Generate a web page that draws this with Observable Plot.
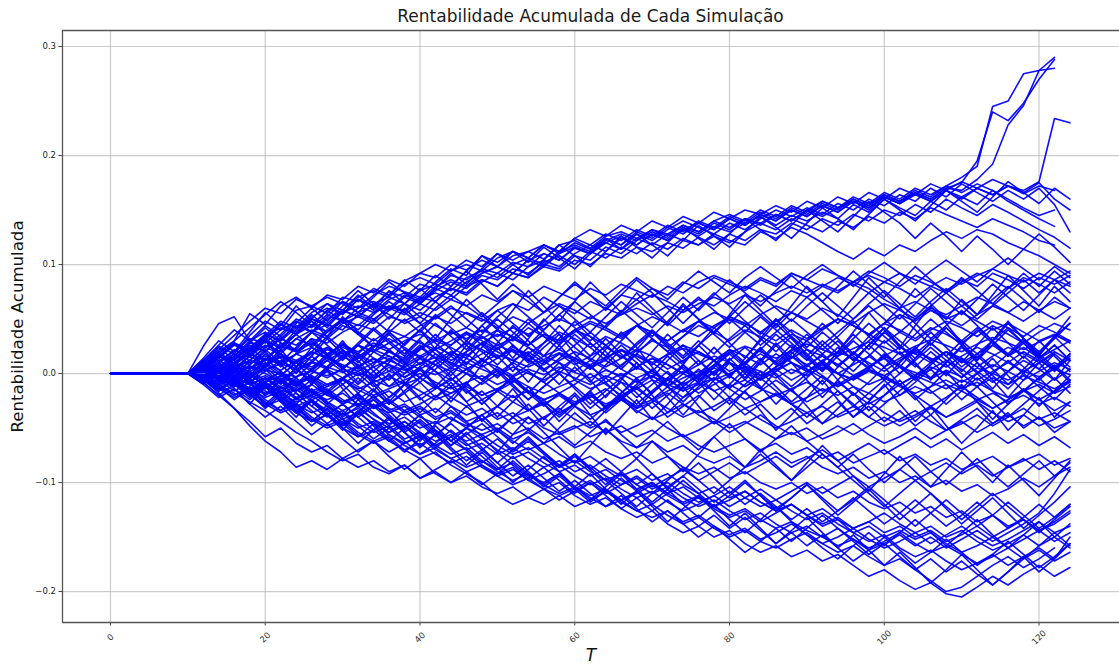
<!DOCTYPE html>
<html>
<head>
<meta charset="utf-8">
<script src="https://cdn.jsdelivr.net/npm/d3@7"></script>
<script src="https://cdn.jsdelivr.net/npm/@observablehq/plot@0.6"></script>
<style>
  html, body { margin: 0; padding: 0; background: #fff; overflow: hidden; }
  #wrap { position: relative; width: 1119px; height: 666px; font-family: "DejaVu Sans", sans-serif; }
  #title { position: absolute; left: 62px; width: 1057px; top: 6px; line-height: 20px; font-size: 17px; text-align: center; color: #1a1a1a; }
  #chart { position: absolute; left: 0; top: 24px; }
</style>
</head>
<body>
<div id="wrap">
  <div id="title">Rentabilidade Acumulada de Cada Simulação</div>
  <div id="chart"></div>
</div>
<script>
// Time axis of each simulation: flat at 0 until day 10, then one value every 2 days.
const flatUntil = 10;
const stepT = 2;
const xTicks = [0, 20, 40, 60, 80, 100, 120];
const yTicks = [-0.2, -0.1, 0.0, 0.1, 0.2, 0.3];

// Cumulative return of each simulation, in thousandths.
const upperBand = [
  [0,12,25,18,35,48,40,58,62,55, 70,66,78,72,85,92,88,100,95,104, 98,108,112,105,118,122,115,126,130,124, 132,128,136,130,140,134,142,138,146,140, 150,144,152,158,150,162,156,165,158,168, 160,170,164,172,166,175,160,150],
  [0,-5,10,22,15,30,45,38,52,60, 55,68,62,75,70,82,78,90,86,96, 92,102,98,110,104,115,110,120,126,118, 128,122,132,126,135,130,138,144,136,145, 140,148,142,155,148,160,152,145,158,150, 162,155,168,158,150,142,135],
  [0,8,20,30,55,45,62,70,60,72, 68,80,74,86,80,92,100,94,104,98, 110,104,112,118,110,120,114,124,118,128, 122,132,140,134,128,138,132,142,150,144, 152,146,156,150,160,154,164,158,170,162, 174,166,158,168,160,170,155,130],
  [0,3,-4,8,18,12,28,22,38,45, 40,54,48,62,58,70,66,78,74,86, 80,92,88,98,94,104,100,110,106,116, 112,120,115,125,118,128,122,132,128,138, 132,142,136,146,140,150,145,155,148,160, 152,145,155,148,140,132,125,115],
  [0,10,5,16,28,24,36,50,44,58, 66,60,72,80,75,70,84,96,90,108, 102,112,106,118,112,124,132,126,136,130, 140,134,144,138,148,142,150,146,154,148, 158,152,162,156,166,160,170,164,174,168, 176,170,178,172,165,172,168],
  [0,6,14,26,20,34,42,36,50,46, 58,52,64,58,70,64,76,84,78,90, 86,96,92,102,108,100,112,106,116,110, 120,114,124,118,128,122,118,130,124,134, 128,120,112,105,115,108,118,112,122,130, 124,132,128,120,114,108,100,92],
  [0,-8,2,-4,12,24,18,32,26,40, 50,44,56,62,56,68,74,68,80,86, 80,92,88,100,96,108,104,116,110,122, 130,124,134,128,138,132,142,136,146,140, 150,158,152,162,156,166,160,170,164,172, 166,174,168,160,152,145,150],
  [0,5,12,20,32,28,40,48,42,54, 48,60,66,60,72,66,78,72,84,92, 98,92,104,98,110,116,110,120,114,124, 118,128,122,118,126,120,130,138,132,142, 136,130,140,134,144,138,148,142,152,146, 140,134,142,136,130,122,118],
  [0,4,14,28,18,32,46,36,50,64, 54,68,58,72,86,76,90,80,94,108, 98,112,102,116,106,96,110,124,114,128, 118,108,122,136,126,116,130,144,134,124, 138,152,142,132,146,160,150,140,154,168, 158,148,162,176,166,156,170,160],
  [0,10,2,16,30,20,34,48,38,52, 66,56,70,84,74,64,78,92,82,96, 110,100,90,104,118,108,98,112,126,116, 106,120,134,124,114,128,142,132,122,136, 150,140,130,144,158,148,138,124,138,126, 112,126,114,100,114,128,116,102]
];

const spikeBand = [
  [0,4,15,28,22,35,48,42,56,64, 58,70,76,70,82,88,82,94,100,94, 106,112,106,118,112,124,118,128,122,132, 126,136,130,140,134,144,138,148,142,152, 146,156,150,160,154,164,158,168,162,172, 180,190,245,250,275,278,290],
  [0,8,2,14,26,20,32,44,38,50, 58,52,64,70,64,76,82,76,88,94, 88,100,106,100,112,118,112,124,118,130, 124,134,128,138,132,142,136,146,140,150, 144,154,148,158,152,162,156,166,160,170, 175,195,240,232,248,270,288],
  [0,6,18,12,24,36,30,42,50,44, 56,62,56,68,74,68,80,86,80,92, 98,92,104,110,104,116,110,122,128,122, 132,126,136,130,140,146,140,150,144,154, 148,158,152,160,154,164,158,166,160,170, 168,178,192,228,246,278,280],
  [0,2,9,5,16,26,20,32,40,34, 46,52,46,58,64,58,70,78,72,84, 92,86,98,104,98,110,118,112,124,118, 128,122,132,138,132,142,136,146,140,150, 144,154,148,158,152,162,156,164,158,168, 162,170,164,172,168,176,234,230]
];

const middleBand = [
  [0,5,-3,10,18,12,25,20,32,28, 38,45,40,52,48,56,50,60,55,48, 58,64,58,70,62,55,66,60,72,68, 78,72,84,78,88,82,76,86,80,92, 86,96,90,84,94,88,80,90,84,76, 86,80,92,86,78,88,82,90],
  [0,-4,6,2,-5,8,15,10,4,12, 20,14,26,20,12,22,30,24,16,28, 36,30,42,34,28,38,46,40,32,44, 52,46,38,48,56,50,44,54,62,56, 48,40,50,44,36,46,54,48,58,52, 44,54,62,56,48,58,66,60],
  [0,3,-6,-2,-10,-4,-14,-8,-18,-12, -5,-15,-22,-16,-26,-20,-12,-22,-30,-24, -16,-26,-34,-28,-20,-30,-38,-32,-24,-34, -42,-36,-28,-38,-46,-40,-32,-42,-50,-44, -36,-46,-38,-30,-40,-48,-42,-34,-44,-52, -46,-38,-48,-40,-32,-42,-36,-44],
  [0,-3,4,-2,6,0,-8,2,10,4, -4,6,14,8,0,10,2,-6,4,12, 6,-2,8,16,10,2,12,4,-4,6, 14,8,0,-8,2,10,4,-4,6,14, 22,16,8,18,10,2,12,20,14,6, 16,24,18,10,20,12,4,14],
  [0,6,2,10,4,14,8,18,12,22, 16,26,20,12,22,16,8,18,28,22, 14,24,18,28,38,32,24,34,28,20, 30,24,34,44,38,30,40,34,26,36, 30,40,50,44,36,46,40,32,42,36, 28,38,48,42,34,44,38,30],
  [0,-2,3,-4,2,-6,1,-8,-2,-10, -4,2,-6,-12,-6,0,-8,-14,-8,-2, -10,-4,-12,-18,-12,-6,-14,-8,0,-8, -2,-10,-16,-10,-4,-12,-6,-14,-20,-14, -8,-16,-10,-2,-10,-4,-12,-18,-12,-6, -14,-8,-16,-22,-16,-10,-18,-12],
  [0,8,16,10,22,30,24,36,44,38, 48,56,50,60,54,64,58,68,62,72, 66,76,70,80,74,68,78,72,82,76, 70,80,74,84,90,84,78,88,82,92, 86,80,74,84,78,68,60,66,58,50, 56,48,40,46,38,30,36,28],
  [0,1,-2,2,-1,3,0,-3,2,-2, 4,0,-4,2,-3,3,-1,5,0,-5, 2,-3,4,-1,6,1,-4,3,-2,5, 0,-6,2,-3,5,-1,7,2,-4,4, -2,6,0,-5,3,-2,6,1,-5,3, -3,5,0,-6,2,-3,4,-1],
  [0,2,8,4,12,6,16,10,20,14, 24,18,10,20,14,24,32,26,36,30, 22,32,26,36,30,40,34,26,36,44, 38,30,40,48,42,52,46,38,48,56, 50,60,54,46,56,64,58,50,60,54, 62,70,64,56,66,58,50,60],
  [0,-4,-10,-5,-14,-8,-18,-12,-22,-16, -26,-20,-30,-24,-34,-28,-20,-30,-38,-32, -42,-36,-46,-40,-32,-42,-50,-44,-54,-48, -40,-50,-58,-52,-44,-54,-46,-38,-48,-56, -50,-60,-54,-46,-56,-64,-58,-50,-60,-52, -44,-54,-46,-38,-48,-40,-50,-44],
  [0,25,46,52,30,38,28,20,28,18, 26,16,24,32,24,14,22,12,20,28, 20,12,20,10,18,8,16,24,16,6, 14,4,12,20,12,2,10,18,10,0, 8,16,8,-2,6,14,6,-4,4,12, 4,-6,2,10,2,10,18],
  [0,10,22,35,48,60,55,68,62,70, 64,56,62,54,46,52,44,36,42,34, 26,32,24,16,22,14,6,12,4,-4, 2,-6,-14,-8,-16,-10,-18,-26,-20,-28, -22,-14,-20,-12,-18,-26,-20,-12,-18,-10, -16,-24,-18,-26,-20,-28,-22,-30],
  [0,4,10,18,12,24,32,26,38,32, 44,38,30,40,34,44,52,46,56,50, 42,52,46,56,64,58,50,60,54,64, 72,66,58,68,62,72,80,74,66,76, 70,80,88,82,74,84,78,70,80,74, 84,92,86,78,88,82,74,84],
  [0,-6,-2,-10,-16,-10,-20,-14,-24,-18, -28,-22,-32,-26,-36,-30,-40,-34,-44,-38, -30,-40,-34,-26,-36,-28,-20,-30,-22,-14, -24,-16,-8,-18,-10,-2,-12,-4,4,-6, 2,10,0,8,16,6,14,22,12,20, 10,18,26,16,24,14,22,30],
  [0,3,-6,4,-8,2,12,4,-6,6, 16,8,-2,8,-4,6,18,10,0,-10, 0,10,2,-8,4,14,6,-4,8,18, 10,0,-10,-2,8,-2,-12,-4,6,16, 8,-2,-12,-4,6,16,8,-2,10,20, 12,2,-8,2,12,4,-6,4],
  [0,2,-3,6,12,8,16,10,18,24, 18,26,20,28,34,28,22,30,38,32, 40,34,26,36,30,40,48,42,34,44, 38,30,40,34,44,52,46,38,30,40, 32,42,50,44,36,28,38,30,40,48, 42,34,44,36,28,38,46,40],
  [0,-2,4,-4,-10,-4,-12,-6,-16,-10, -4,-12,-20,-14,-8,-16,-24,-18,-10,-20, -14,-6,-16,-24,-18,-28,-22,-14,-24,-32, -26,-18,-28,-36,-30,-22,-32,-26,-18,-28, -36,-30,-40,-34,-26,-36,-44,-38,-30,-40, -34,-26,-36,-44,-38,-48,-42,-34],
  [0,4,0,6,2,9,3,12,6,14, 8,2,10,16,10,4,12,20,14,6, 14,22,16,8,18,12,4,14,22,16, 8,18,26,20,12,22,16,8,18,10, 2,12,20,14,6,16,24,18,10,20, 14,6,16,24,18,10,20,12],
  [0,3,8,2,10,16,10,18,24,18, 26,20,28,22,30,36,30,38,32,40, 34,42,36,44,50,44,52,46,54,60, 54,62,56,64,70,64,72,66,74,80, 74,82,76,84,90,84,92,86,80,88, 82,90,96,90,84,92,86,80],
  [0,-3,2,-5,0,-8,-2,-10,-4,-12, -6,-14,-8,-2,-10,-4,-12,-18,-12,-20, -14,-22,-16,-24,-18,-26,-20,-28,-22,-30, -24,-32,-40,-34,-42,-50,-44,-52,-60,-54, -62,-56,-48,-56,-48,-40,-48,-40,-32,-40, -32,-24,-32,-24,-16,-24,-16,-8],
  [0,2,5,1,7,3,9,4,11,6, 1,7,13,8,3,9,15,10,4,11, 17,12,6,13,19,14,8,15,21,16, 10,17,23,18,12,19,25,20,14,21, 27,22,16,23,29,24,18,25,31,26, 20,27,33,28,22,29,35,30],
  [0,-1,-5,0,-7,-2,-9,-3,3,-4, 4,-2,6,12,6,14,8,2,10,4, -2,6,0,-6,2,-4,-10,-2,-8,-14, -6,-12,-4,2,-6,0,6,-2,4,10, 2,8,0,-6,2,-4,-10,-2,-8,-14, -6,-12,-4,-10,-2,-8,-14,-6],
  [0,4,-2,5,-4,6,-6,4,-8,2, -10,0,-12,-4,6,-4,-14,-6,4,-6, -16,-8,2,-8,-18,-10,0,-10,-20,-12, -2,-12,-22,-14,-4,-14,-24,-16,-6,-16, -26,-18,-8,-18,-28,-20,-10,-20,-30,-22, -12,-22,-32,-24,-14,-24,-34,-26],
  [0,-2,5,10,4,12,18,12,20,14, 6,14,22,16,8,16,24,18,10,18, 26,20,12,4,12,20,14,6,14,22, 16,8,0,8,16,10,2,-6,2,10, 4,-4,-12,-4,4,-2,-10,-2,6,0, -8,0,8,2,-6,2,10,4],
  [0,12,-6,8,22,4,-10,6,24,14, 30,12,-4,10,28,40,22,8,26,44, 30,14,32,50,36,18,4,22,38,24, 6,-10,8,26,12,-4,14,32,50,34, 16,2,20,38,56,40,24,44,62,46, 28,12,30,48,32,16,34,52],
  [0,-8,6,-12,-4,-20,-6,-24,-10,4, -14,-30,-16,0,-18,-36,-22,-8,-26,-44, -30,-14,-32,-48,-34,-20,-38,-56,-40,-24, -42,-28,-12,-30,-46,-32,-16,-34,-52,-38, -22,-6,-24,-40,-26,-10,-28,-44,-30,-48, -64,-50,-34,-52,-38,-22,-40,-26],
  [0,14,30,20,38,56,44,62,48,34, 52,38,24,42,60,46,32,50,68,54, 40,58,76,62,48,66,84,70,56,74, 60,46,64,50,36,54,72,58,44,62, 80,66,52,70,88,74,60,78,64,50, 68,54,72,90,76,62,80,66],
  [0,6,18,4,16,30,14,0,16,32, 18,4,20,36,22,8,24,40,26,12, 28,44,30,16,32,48,34,20,6,22, 38,24,10,26,42,28,14,30,46,32, 18,4,20,36,22,38,54,40,26,42, 28,14,30,46,32,18,34,20],
  [0,-4,8,-6,-18,-4,-16,-28,-14,-26, -38,-24,-36,-48,-34,-46,-58,-44,-30,-42, -54,-40,-52,-64,-50,-36,-48,-34,-20,-32, -18,-4,-16,-2,12,-2,10,24,10,22, 36,22,34,48,34,46,60,46,32,44, 58,44,30,42,28,14,26,12],
  [0,10,24,12,28,42,30,46,60,48, 62,76,64,50,64,78,66,80,94,82, 68,82,70,56,70,84,72,58,72,86, 74,60,46,60,74,62,48,36,50,38, 24,38,26,12,26,14,0,14,28,16, 2,16,4,-10,4,18,6,-8],
  [0,8,-8,6,-10,8,22,6,-10,6, 22,6,-10,-26,-10,6,-10,-26,-10,8, 24,8,-8,10,26,10,-6,-22,-6,10, -6,-22,-38,-22,-6,10,-6,10,26,10, -6,-22,-6,10,26,42,26,10,-6,10, 26,10,-6,-22,-6,10,-6,12],
  [0,-6,6,18,8,22,10,24,38,26, 14,28,42,30,18,32,46,34,22,36, 50,38,26,40,54,42,30,44,58,46, 34,48,62,50,38,52,66,54,42,56, 70,58,46,60,74,62,50,64,78,66, 54,68,82,70,58,72,86,74],
  [0,4,-4,8,-2,10,0,-12,0,12, 2,-10,2,14,4,-8,4,16,6,-6, 6,-6,-18,-30,-18,-30,-42,-30,-18,-6, -18,-6,6,-6,6,18,6,-6,6,18, 30,18,6,18,30,42,30,18,30,42, 30,18,6,18,6,-6,6,18],
  [0,12,26,40,30,44,34,20,32,18, 4,16,2,-12,0,14,2,-12,0,14, 2,-12,-24,-12,0,-12,-24,-36,-24,-12, -24,-12,0,12,0,12,24,12,0,-12, 0,12,0,-12,-24,-12,0,12,24,12, 0,-12,0,12,0,-12,-24,-10],
  [0,6,16,28,16,30,18,6,20,34, 22,10,24,38,26,40,54,42,30,44, 58,46,34,48,62,50,38,52,66,54, 42,56,70,58,72,86,74,62,76,90, 78,66,80,94,82,70,84,98,86,74, 88,76,64,78,92,80,94,82],
  [0,-6,4,-8,-20,-8,-18,-4,-16,-28, -16,-4,-16,-28,-16,-4,8,-4,-16,-28, -16,-4,-16,-28,-40,-28,-16,-4,-16,-28, -16,-4,8,-4,-16,-28,-16,-4,-16,-28, -40,-28,-16,-28,-40,-28,-16,-4,-16,-28, -16,-4,-16,-28,-16,-4,8,-6],
  [0,-8,-20,-10,4,18,8,-4,10,24, 12,26,40,28,16,30,18,6,20,34, 22,36,50,38,26,40,28,16,30,44, 32,20,34,48,36,24,38,52,40,28, 16,30,18,32,46,34,22,36,50,38, 26,40,28,16,30,18,32,46],
  [0,6,-4,10,-2,14,2,-10,4,18, 6,-8,8,22,10,-4,12,-2,14,28, 16,2,18,4,-10,6,-8,8,22,10, -4,12,26,12,-2,14,0,-14,2,16, 4,-10,6,20,8,-6,10,24,12,-2, 14,0,-14,2,16,4,18,6],
  [0,-6,4,-10,2,-14,-2,10,-4,-18, -6,8,-8,-22,-10,4,-12,2,-14,-28, -16,-2,-18,-4,10,-6,8,-8,-22,-10, 4,-12,-26,-12,2,-14,0,14,-2,-16, -4,10,-6,-20,-8,6,-10,-24,-12,2, -14,0,14,-2,-16,-4,-18,-6],
  [0,3,10,-2,8,20,6,18,30,16, 4,18,6,-6,8,22,36,22,8,24, 40,26,12,28,44,30,16,32,18,4, 20,36,22,8,24,10,-4,12,28,14, 30,46,32,18,34,20,6,22,38,24, 10,26,42,28,14,30,16,2],
  [0,-3,-10,2,-8,-20,-6,-18,-30,-16, -4,-18,-6,6,-8,-22,-36,-22,-8,-24, -40,-26,-12,-28,-44,-30,-16,-32,-18,-4, -20,-36,-22,-8,-24,-10,4,-12,-28,-14, -30,-46,-32,-18,-34,-20,-6,-22,-38,-24, -10,-26,-42,-28,-14,-30,-16,-2],
  [0,4,12,4,16,8,-2,10,2,16, 28,18,32,22,10,24,14,4,18,8, -4,10,24,12,0,14,28,16,4,18, 32,20,8,-4,8,22,10,-2,12,26, 14,2,16,30,18,6,20,8,-4,10, 24,12,26,40,28,16,4,18],
  [0,-4,-12,-4,-16,-8,2,-10,-2,-16, -28,-18,-32,-22,-10,-24,-14,-4,-18,-8, 4,-10,-24,-12,0,-14,-28,-16,-4,-18, -32,-20,-8,4,-8,-22,-10,2,-12,-26, -14,-2,-16,-30,-18,-6,-20,-8,4,-10, -24,-12,-26,-40,-28,-16,-4,-18],
  [0,8,2,14,24,12,26,36,24,38, 48,36,24,38,50,38,52,62,50,38, 52,64,52,40,54,66,54,42,56,68, 56,44,58,70,58,46,60,72,60,48, 62,74,62,50,64,76,64,52,66,78, 66,54,68,80,68,56,70,60],
  [0,10,20,8,22,36,24,40,54,42, 58,72,60,76,64,52,66,54,42,56, 44,32,46,34,22,36,24,12,26,14, 2,16,4,-8,6,20,8,22,36,24, 12,26,14,2,16,30,18,6,20,8, -4,10,-2,-14,0,14,2,16],
  [0,-6,-16,-6,-18,-30,-18,-32,-44,-32, -46,-58,-46,-60,-72,-60,-48,-62,-50,-38, -52,-40,-28,-42,-30,-18,-32,-20,-8,-22, -10,2,-12,0,12,-2,10,22,8,20, 6,18,30,16,4,18,6,-6,8,20, 6,18,30,16,28,14,26,12],
  [0,2,-6,6,-4,8,18,6,16,4, 14,26,14,2,14,26,14,26,38,26, 14,26,14,2,14,26,38,26,14,26, 38,26,14,26,38,50,38,26,38,50, 38,26,38,50,62,50,38,50,62,74, 62,50,62,74,86,74,86,94],
  [0,8,18,30,42,54,66,56,44,58, 48,36,50,38,26,40,28,16,30,20, 8,22,10,24,36,24,12,26,14,28, 40,28,16,30,18,32,44,32,20,34, 22,10,24,12,26,38,26,14,28,16, 30,42,30,18,32,20,34,46],
  [0,-4,4,-8,0,-12,-4,-16,-6,-20, -10,-24,-14,-28,-18,-8,-22,-12,-26,-16, -30,-20,-34,-24,-38,-28,-18,-32,-22,-36, -26,-40,-30,-20,-34,-24,-38,-28,-42,-32, -46,-36,-26,-40,-30,-44,-34,-48,-38,-52, -42,-32,-46,-36,-50,-40,-54,-44],
  [0,4,16,8,20,32,22,36,48,38, 50,40,54,66,56,46,60,72,62,52, 64,76,66,56,70,82,72,62,76,88, 78,68,82,94,84,74,88,98,88,78, 90,100,90,80,92,102,92,82,94,104, 94,84,96,106,96,86,98,88]
];

const lowerBand = [
  [0,-8,-20,-32,-44,-58,-50,-64,-72,-66, -78,-86,-80,-90,-84,-96,-88,-80,-90,-84, -94,-102,-96,-106,-112,-106,-98,-108,-116,-110, -102,-112,-120,-114,-124,-132,-126,-136,-128,-120, -130,-140,-134,-146,-154,-148,-160,-168,-162,-172, -180,-174,-166,-176,-168,-160,-170,-150],
  [0,-4,-10,-18,-26,-34,-44,-54,-62,-72, -80,-74,-86,-92,-84,-96,-90,-100,-94,-104, -110,-104,-114,-120,-112,-122,-116,-108,-118,-126, -120,-130,-138,-132,-142,-150,-144,-154,-160,-152, -146,-156,-164,-158,-168,-176,-170,-180,-190,-200, -196,-186,-176,-168,-178,-170,-160],
  [0,3,-5,-12,-6,-16,-24,-18,-30,-40, -34,-46,-54,-48,-60,-54,-66,-74,-68,-80, -88,-82,-94,-100,-92,-104,-112,-106,-116,-108, -100,-110,-118,-112,-122,-130,-124,-134,-142,-136, -144,-150,-142,-152,-160,-154,-146,-156,-164,-158, -166,-174,-168,-160,-170,-162,-172,-164],
  [0,-6,-2,-10,-18,-12,-22,-30,-24,-34, -42,-36,-46,-54,-48,-58,-52,-62,-70,-64, -74,-68,-78,-86,-80,-90,-84,-94,-102,-96, -106,-100,-110,-118,-112,-104,-114,-122,-116,-126, -134,-128,-138,-146,-140,-150,-144,-152,-146,-156, -164,-158,-150,-160,-152,-144,-154,-146],
  [0,-2,-8,-4,-14,-22,-16,-28,-36,-30, -42,-50,-44,-56,-64,-58,-70,-78,-72,-84, -92,-86,-98,-106,-100,-112,-120,-114,-124,-132, -126,-138,-146,-140,-150,-144,-156,-164,-158,-168, -162,-172,-166,-176,-186,-180,-190,-198,-192,-202, -205,-196,-186,-194,-184,-176,-186,-178],
  [0,-5,-14,-8,-20,-30,-24,-36,-44,-38, -50,-58,-52,-62,-70,-64,-74,-82,-76,-86, -94,-88,-98,-92,-84,-94,-102,-96,-106,-114, -108,-118,-126,-120,-112,-122,-114,-106,-116,-108, -100,-110,-102,-94,-104,-96,-88,-98,-90,-82, -92,-84,-94,-86,-78,-88,-80,-90],
  [0,2,-4,2,-6,-12,-6,-16,-10,-20, -26,-20,-30,-36,-30,-40,-46,-40,-50,-56, -50,-60,-54,-64,-58,-68,-62,-72,-78,-72, -82,-76,-86,-92,-86,-96,-90,-100,-106,-100, -110,-104,-114,-108,-118,-124,-118,-128,-122,-132, -126,-136,-130,-140,-134,-144,-138,-128],
  [0,-3,-12,-20,-14,-26,-34,-28,-40,-48, -42,-54,-62,-56,-66,-74,-68,-78,-86,-80, -90,-98,-92,-102,-110,-104,-114,-122,-116,-126, -132,-126,-136,-130,-140,-148,-142,-152,-146,-138, -148,-156,-150,-142,-152,-160,-154,-146,-156,-148, -140,-150,-158,-152,-144,-136,-146,-140],
  [0,-5,-18,-32,-48,-62,-72,-86,-80,-88, -78,-70,-62,-72,-64,-56,-66,-58,-50,-60, -52,-62,-70,-64,-74,-82,-76,-86,-94,-88, -98,-92,-102,-110,-104,-114,-108,-118,-126,-120, -130,-124,-134,-142,-136,-146,-140,-150,-144,-154, -148,-140,-150,-142,-134,-144,-136,-126],
  [0,-2,3,-4,-10,-4,-14,-8,-18,-24, -18,-28,-22,-32,-38,-32,-42,-36,-46,-52, -46,-56,-50,-60,-54,-48,-58,-52,-62,-68, -62,-72,-66,-76,-82,-76,-86,-80,-72,-82, -76,-86,-92,-86,-96,-90,-100,-94,-104,-98, -108,-102,-112,-106,-96,-104,-94,-86],
  [0,-4,2,-6,-14,-8,-18,-26,-20,-30, -38,-32,-42,-50,-44,-54,-62,-56,-66,-60, -70,-78,-72,-82,-90,-84,-94,-88,-98,-106, -100,-110,-104,-114,-122,-116,-108,-118,-126,-120, -130,-138,-132,-142,-136,-128,-138,-146,-140,-150, -144,-154,-162,-156,-148,-158,-150,-160],
  [0,-3,-8,-2,-10,-18,-12,-22,-16,-26, -34,-28,-38,-46,-40,-50,-44,-54,-62,-56, -66,-74,-68,-78,-86,-80,-90,-98,-92,-102, -110,-104,-114,-122,-116,-126,-134,-128,-138,-146, -140,-150,-158,-152,-162,-156,-148,-158,-150,-160, -152,-144,-154,-146,-138,-128,-110,-88],
  [0,2,-3,-8,-2,-10,-16,-10,-20,-14, -24,-30,-24,-34,-28,-38,-32,-42,-48,-42, -36,-46,-40,-50,-56,-50,-44,-54,-48,-58, -52,-62,-56,-66,-72,-66,-60,-70,-64,-74, -68,-78,-72,-82,-76,-70,-80,-74,-84,-78, -88,-82,-76,-86,-80,-74,-84,-78],
  [0,-6,-14,-22,-16,-28,-36,-30,-42,-50, -44,-56,-64,-58,-70,-78,-72,-84,-92,-100, -112,-120,-114,-106,-116,-108,-100,-110,-102,-94, -104,-96,-88,-98,-90,-82,-92,-84,-76,-86, -78,-70,-80,-72,-64,-74,-66,-58,-68,-60, -70,-62,-54,-64,-56,-66,-58,-68],
  [0,-10,4,-14,-28,-12,-26,-40,-24,-38, -52,-36,-20,-34,-48,-62,-46,-30,-44,-58, -72,-56,-40,-54,-68,-82,-66,-50,-64,-78, -62,-76,-90,-74,-58,-72,-86,-70,-84,-98, -82,-66,-80,-94,-108,-92,-76,-90,-104,-88, -72,-86,-100,-84,-98,-112,-96,-80],
  [0,-6,-16,-4,-18,-32,-20,-34,-48,-36, -50,-64,-52,-40,-54,-68,-56,-70,-84,-72, -86,-100,-88,-76,-90,-104,-92,-106,-120,-108, -122,-136,-124,-112,-126,-140,-128,-142,-156,-144, -132,-146,-160,-148,-162,-176,-164,-178,-192,-180, -166,-180,-194,-182,-168,-182,-170,-156],
  [0,-2,-12,-24,-14,-28,-16,-30,-44,-32, -46,-34,-48,-62,-50,-38,-52,-66,-54,-68, -82,-70,-58,-72,-86,-74,-88,-102,-90,-78, -92,-106,-94,-82,-96,-110,-98,-112,-126,-114, -102,-116,-130,-118,-106,-120,-134,-122,-110,-124, -138,-126,-114,-128,-142,-130,-118,-104],
  [0,-4,-14,-6,-18,-10,-22,-34,-24,-36, -48,-38,-28,-40,-52,-42,-54,-66,-56,-46, -58,-70,-60,-72,-84,-74,-86,-98,-110,-122, -110,-98,-86,-98,-110,-98,-86,-74,-86,-98, -86,-74,-86,-98,-110,-122,-110,-98,-110,-122, -134,-122,-110,-122,-134,-146,-134,-122],
  [0,-10,-22,-14,-28,-40,-30,-44,-56,-46, -60,-72,-62,-76,-88,-78,-92,-100,-90,-102, -92,-80,-92,-104,-94,-106,-118,-108,-96,-108, -120,-110,-98,-110,-122,-112,-100,-112,-124,-114, -102,-114,-126,-116,-104,-116,-128,-140,-128,-116, -128,-140,-130,-118,-130,-142,-132,-120],
  [0,-2,-6,-16,-8,-20,-12,-24,-16,-28, -40,-30,-42,-54,-44,-56,-68,-58,-70,-82, -72,-84,-96,-86,-98,-110,-100,-112,-124,-114, -126,-116,-128,-140,-130,-142,-132,-144,-156,-146, -158,-148,-160,-172,-162,-150,-162,-174,-164,-152, -164,-176,-166,-154,-166,-178,-168,-156],
  [0,-4,2,-8,-20,-12,-24,-36,-26,-38, -28,-40,-52,-42,-54,-66,-56,-68,-80,-70, -82,-94,-84,-96,-108,-98,-110,-122,-112,-124, -136,-126,-138,-150,-140,-152,-164,-154,-142,-154, -142,-130,-142,-154,-166,-156,-168,-180,-170,-182, -172,-184,-194,-182,-170,-158,-146,-158],
  [0,-8,-2,-14,-24,-12,-26,-36,-24,-38, -48,-36,-24,-38,-50,-38,-52,-62,-50,-38, -52,-64,-52,-40,-54,-66,-54,-42,-56,-68, -56,-44,-58,-70,-58,-46,-60,-72,-60,-48, -62,-74,-86,-74,-88,-100,-88,-76,-90,-102, -90,-78,-92,-104,-92,-80,-94,-82],
  [0,-2,-10,-20,-12,-24,-34,-22,-34,-46, -36,-48,-60,-50,-62,-74,-64,-52,-64,-76, -88,-76,-90,-102,-92,-104,-116,-104,-92,-106, -118,-106,-120,-132,-120,-134,-146,-134,-122,-136, -148,-160,-170,-158,-146,-158,-146,-134,-146,-158, -146,-134,-148,-160,-148,-136,-150,-138],
  [0,-6,2,-10,-22,-12,-24,-14,-26,-38, -28,-40,-30,-42,-54,-44,-56,-46,-58,-70, -60,-72,-62,-74,-86,-76,-88,-78,-90,-102, -92,-104,-94,-106,-118,-108,-120,-110,-122,-134, -124,-136,-126,-114,-126,-138,-128,-116,-128,-140, -130,-118,-130,-142,-132,-120,-132,-120]
];

// Build a long table (one row per simulation and day) for Plot.
const simulations = [...upperBand, ...spikeBand, ...middleBand, ...lowerBand];
const rows = [];
simulations.forEach((vals, id) => {
  rows.push({id, t: 0, v: 0});
  vals.forEach((v, i) => rows.push({id, t: flatUntil + stepT * i, v: v / 1000}));
});

const minus = s => s.replace("-", "\u2212");

const chart = Plot.plot({
  width: 1119,
  height: 642,
  marginTop: 6,
  marginBottom: 44,
  marginLeft: 62,
  marginRight: 0,
  style: {fontFamily: "DejaVu Sans, sans-serif", background: "#fff", color: "#222", overflow: "visible"},
  x: {domain: [-6.2, 130.4]},
  y: {domain: [-0.2284, 0.3147]},
  marks: [
    Plot.gridX(xTicks, {stroke: "#b0b0b0", strokeOpacity: 0.65, strokeWidth: 1.2}),
    Plot.gridY(yTicks, {stroke: "#b0b0b0", strokeOpacity: 0.65, strokeWidth: 1.2}),
    Plot.line(rows, {x: "t", y: "v", z: "id", stroke: "#0000ff", strokeWidth: 1.6, strokeOpacity: 0.95, curve: "linear"}),
    Plot.axisY(yTicks, {tickSize: 3.5, tickPadding: 3, fontSize: 8.5, label: null, tickFormat: d => minus(d.toFixed(1)), stroke: "#444"}),
    Plot.axisX(xTicks, {tickSize: 3.5, tickFormat: () => "", label: null, stroke: "#444"}),
    Plot.text(xTicks, {x: d => d, frameAnchor: "bottom", dy: 15, rotate: -45, textAnchor: "middle", lineAnchor: "middle", fontSize: 8.5, fill: "#333", text: d => String(d)}),
    Plot.ruleY([-0.2284], {stroke: "#555", strokeWidth: 1.3}),
    Plot.ruleY([0.3147], {stroke: "#555", strokeWidth: 1.3}),
    Plot.ruleX([-6.2], {stroke: "#555", strokeWidth: 1.3}),
    Plot.text(["T"], {frameAnchor: "bottom", dy: 33, lineAnchor: "middle", textAnchor: "middle", fontSize: 17, fontStyle: "italic", fill: "#111", text: d => d}),
    Plot.text(["Rentabilidade Acumulada"], {frameAnchor: "left", dx: -45, rotate: -90, textAnchor: "middle", lineAnchor: "middle", fontSize: 16.6, fill: "#111", text: d => d})
  ]
});
document.getElementById("chart").appendChild(chart);
</script>
</body>
</html>
